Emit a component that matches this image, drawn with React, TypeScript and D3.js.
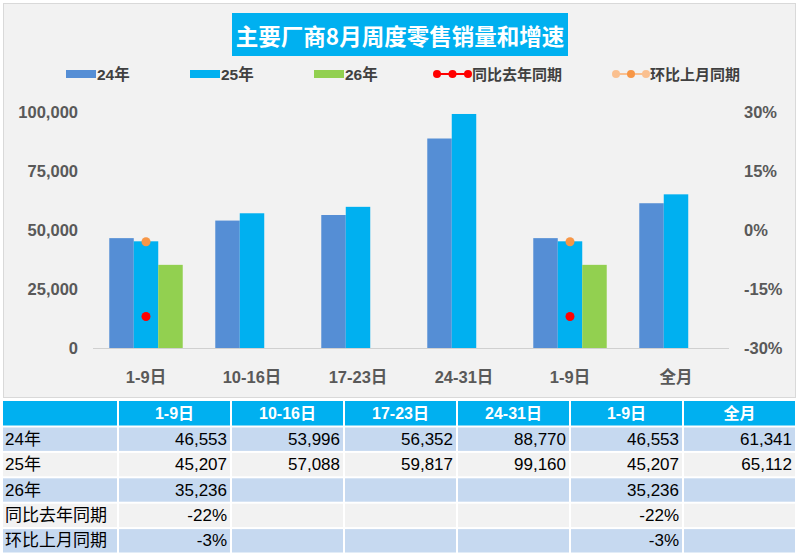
import React, { useEffect } from 'react'
import * as d3 from 'd3'

const categories: string[] = ['1-9日', '10-16日', '17-23日', '24-31日', '1-9日', '全月']
const series: string[] = ['24年', '25年', '26年']
const sales24: (number | null)[] = [46553, 53996, 56352, 88770, 46553, 61341]
const sales25: (number | null)[] = [45207, 57088, 59817, 99160, 45207, 65112]
const sales26: (number | null)[] = [35236, null, null, null, 35236, null]
const yoy: (number | null)[] = [-0.22, null, null, null, -0.22, null]
const mom: (number | null)[] = [-0.03, null, null, null, -0.03, null]
const leftTicks: number[] = [0, 25000, 50000, 75000, 100000]
const rightTicks: number[] = [-0.3, -0.15, 0, 0.15, 0.3]
const rowLabels: string[] = ['24年', '25年', '26年', '同比去年同期', '环比上月同期']

const barColors = ['#558ED5', '#00B0F0', '#92D050']
const FONT = '"Liberation Sans", Arial, "Noto Sans CJK SC", sans-serif'
const GREY = '#595959'

const W = 800
const H = 557
const plot = { left: 93, right: 729, top: 112, bottom: 348 }

export default function App() {
  useEffect(() => {
    document.body.style.margin = '0'
  }, [])

  // scales
  const x0 = d3.scaleBand<number>()
    .domain(categories.map((_, i) => i))
    .range([plot.left, plot.right])
    .paddingInner(0.307)
    .paddingOuter(0.1535)
  const x1 = d3.scaleBand<string>()
    .domain(series)
    .range([0, x0.bandwidth()])
  const yLeft = d3.scaleLinear().domain([0, 100000]).range([plot.bottom, plot.top])
  const yRight = d3.scaleLinear().domain([-0.3, 0.3]).range([plot.bottom, plot.top])
  const fmt = d3.format(',')
  // d3 writes a unicode minus, Excel uses a plain hyphen
  const pct = (v: number) => d3.format('.0%')(v).replace('\u2212', '-')

  const allSeries = [sales24, sales25, sales26]

  // table geometry
  const tableTop = 401
  const headH = 25.5
  const rowH = 25.4
  const labelX0 = 3
  const colX0 = 118
  const colW = 113
  const rowFill = ['#C6D9F0', '#F2F2F2', '#C6D9F0', '#F2F2F2', '#C6D9F0']
  const rowData: (string | null)[][] = [
    sales24.map(v => (v == null ? null : fmt(v))),
    sales25.map(v => (v == null ? null : fmt(v))),
    sales26.map(v => (v == null ? null : fmt(v))),
    yoy.map(v => (v == null ? null : pct(v))),
    mom.map(v => (v == null ? null : pct(v))),
  ]

  const legendBars = [
    { x: 66, label: series[0], color: barColors[0] },
    { x: 190, label: series[1], color: barColors[1] },
    { x: 314, label: series[2], color: barColors[2] },
  ]

  return (
    <svg width={W} height={H} style={{ display: 'block', background: '#fff', fontFamily: FONT }}>
      {/* chart area */}
      <rect x={3.5} y={3.5} width={792} height={394} fill="#F2F2F2" stroke="#D9D9D9" />

      {/* title */}
      <rect x={232} y={13} width={336} height={43} fill="#00B0F0" />
      <text x={400} y={35} textAnchor="middle" dominantBaseline="central" fill="#fff"
        fontSize={22.5} fontWeight="bold" fontFamily='"Noto Sans CJK SC", sans-serif'>
        主要厂商8月周度零售销量和增速
      </text>

      {/* legend */}
      {legendBars.map(l => (
        <g key={l.label}>
          <rect x={l.x} y={70} width={30} height={8} fill={l.color} />
          <text x={l.x + 31} y={74} dominantBaseline="central" fill="#404040" fontSize={15.5} fontWeight="bold">{l.label}</text>
        </g>
      ))}
      <g>
        <line x1={437} x2={468} y1={74} y2={74} stroke="#FF0000" strokeWidth={2} />
        {[437, 452.5, 468].map(cx => <circle key={cx} cx={cx} cy={74} r={4} fill="#FF0000" />)}
        <text x={472} y={74} dominantBaseline="central" fill="#404040" fontSize={15} fontWeight="bold">同比去年同期</text>
      </g>
      <g>
        <line x1={616} x2={646} y1={74} y2={74} stroke="#FAC090" strokeWidth={2} />
        <circle cx={616} cy={74} r={4} fill="#FAC090" />
        <circle cx={631} cy={74} r={4} fill="#F79646" />
        <circle cx={646} cy={74} r={4} fill="#FAC090" />
        <text x={650} y={74} dominantBaseline="central" fill="#404040" fontSize={15} fontWeight="bold">环比上月同期</text>
      </g>

      {/* left axis labels */}
      {leftTicks.map(t => (
        <text key={t} x={78} y={yLeft(t)} textAnchor="end" dominantBaseline="central"
          fill={GREY} fontSize={16.5} fontWeight="bold">{fmt(t)}</text>
      ))}
      {/* right axis labels */}
      {rightTicks.map(t => (
        <text key={t} x={744} y={yRight(t)} dominantBaseline="central"
          fill={GREY} fontSize={16.5} fontWeight="bold">{pct(t)}</text>
      ))}

      {/* bars */}
      {categories.map((c, i) => (
        <g key={i} transform={`translate(${x0(i)},0)`}>
          {allSeries.map((s, j) => {
            const v = s[i]
            if (v == null) return null
            return (
              <rect key={j} x={x1(series[j])} y={yLeft(v)} width={x1.bandwidth()}
                height={yLeft(0) - yLeft(v)} fill={barColors[j]} />
            )
          })}
        </g>
      ))}

      {/* baseline */}
      <line x1={plot.left} x2={plot.right} y1={plot.bottom + 0.5} y2={plot.bottom + 0.5} stroke="#D0D0D0" strokeWidth={1.2} />

      {/* markers */}
      {yoy.map((v, i) => v == null ? null : (
        <circle key={'y' + i} cx={x0(i)! + x0.bandwidth() / 2} cy={yRight(v)} r={4.5} fill="#FF0000" />
      ))}
      {mom.map((v, i) => v == null ? null : (
        <circle key={'m' + i} cx={x0(i)! + x0.bandwidth() / 2} cy={yRight(v)} r={4.5} fill="#F79646" />
      ))}

      {/* category labels */}
      {categories.map((c, i) => (
        <text key={i} x={x0(i)! + x0.bandwidth() / 2} y={377} textAnchor="middle" dominantBaseline="central"
          fill={GREY} fontSize={16.5} fontWeight="bold">{c}</text>
      ))}

      {/* table header */}
      <rect x={labelX0} y={tableTop} width={colX0 - labelX0 - 1} height={headH - 1} fill="#00B0F0" />
      {categories.map((c, i) => (
        <g key={i}>
          <rect x={colX0 + i * colW + 1} y={tableTop} width={colW - 2} height={headH - 1} fill="#00B0F0" />
          <text x={colX0 + i * colW + colW / 2} y={tableTop + headH / 2} textAnchor="middle" dominantBaseline="central"
            fill="#fff" fontSize={16} fontWeight="bold">{c}</text>
        </g>
      ))}

      {/* table rows */}
      {rowLabels.map((r, ri) => {
        const y = tableTop + headH + ri * rowH
        return (
          <g key={r}>
            <rect x={labelX0} y={y + 1} width={colX0 - labelX0 - 1} height={rowH - 2} fill={rowFill[ri]} />
            <text x={labelX0 + 2} y={y + rowH / 2} dominantBaseline="central" fill="#000" fontSize={17}>{r}</text>
            {categories.map((_, ci) => (
              <g key={ci}>
                <rect x={colX0 + ci * colW + 1} y={y + 1} width={colW - 2} height={rowH - 2} fill={rowFill[ri]} />
                {rowData[ri][ci] != null && (
                  <text x={colX0 + (ci + 1) * colW - 4} y={y + rowH / 2} textAnchor="end" dominantBaseline="central"
                    fill="#000" fontSize={17}>{rowData[ri][ci]}</text>
                )}
              </g>
            ))}
          </g>
        )
      })}
    </svg>
  )
}
